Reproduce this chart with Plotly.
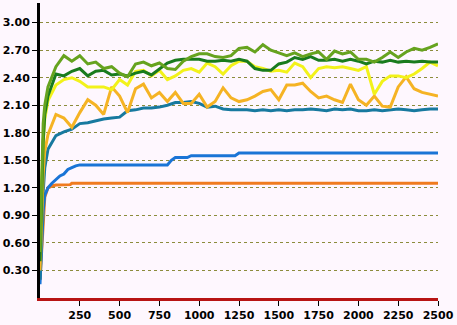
import plotly.graph_objects as go

# Sample positions (iterations); dense at the start where the curves climb
X_STEPS = [0, 10, 20, 30] + list(range(50, 2501, 50))

light_green = [0.50, 1.40, 1.90, 2.10,
               2.30, 2.52, 2.64, 2.58, 2.64, 2.55, 2.57, 2.50, 2.52, 2.45,
               2.41, 2.55, 2.57, 2.53, 2.56, 2.50, 2.49, 2.58, 2.63, 2.66,
               2.66, 2.63, 2.62, 2.64, 2.72, 2.73, 2.68, 2.76, 2.70, 2.67,
               2.64, 2.67, 2.63, 2.66, 2.68, 2.60, 2.69, 2.66, 2.68, 2.60,
               2.60, 2.57, 2.62, 2.68, 2.62, 2.68, 2.72, 2.70, 2.73, 2.77]

dark_green = [0.40, 1.20, 1.70, 2.00,
              2.20, 2.44, 2.42, 2.47, 2.50, 2.42, 2.47, 2.48, 2.43, 2.44,
              2.42, 2.45, 2.47, 2.43, 2.50, 2.56, 2.59, 2.60, 2.60, 2.60,
              2.58, 2.58, 2.59, 2.58, 2.60, 2.58, 2.50, 2.48, 2.48, 2.55,
              2.57, 2.62, 2.60, 2.63, 2.59, 2.59, 2.60, 2.58, 2.60, 2.58,
              2.55, 2.58, 2.57, 2.59, 2.57, 2.58, 2.57, 2.58, 2.57, 2.57]

yellow = [0.70, 1.30, 1.70, 1.95,
          2.15, 2.32, 2.38, 2.40, 2.36, 2.30, 2.30, 2.30, 2.27, 2.38,
          2.32, 2.47, 2.48, 2.42, 2.48, 2.38, 2.42, 2.48, 2.50, 2.46,
          2.56, 2.52, 2.44, 2.53, 2.58, 2.58, 2.52, 2.50, 2.47, 2.48,
          2.46, 2.56, 2.52, 2.40, 2.50, 2.52, 2.51, 2.52, 2.50, 2.48,
          2.52, 2.22, 2.36, 2.42, 2.42, 2.40, 2.44, 2.50, 2.57, 2.53]

gold = [0.30, 0.90, 1.35, 1.60,
        1.78, 2.00, 1.96, 1.86, 2.02, 2.16, 2.10, 2.00, 2.30, 2.20,
        2.02, 2.28, 2.33, 2.18, 2.24, 2.14, 2.24, 2.12, 2.12, 2.22,
        2.08, 2.14, 2.29, 2.18, 2.14, 2.16, 2.20, 2.25, 2.27, 2.16,
        2.32, 2.32, 2.34, 2.25, 2.18, 2.20, 2.16, 2.13, 2.33, 2.16,
        2.10, 2.20, 2.09, 2.08, 2.30, 2.41, 2.28, 2.24, 2.22, 2.20]

teal = [0.20, 0.70, 1.15, 1.42,
        1.62, 1.77, 1.81, 1.84, 1.90, 1.91, 1.93, 1.95, 1.96, 1.97,
        2.04, 2.05, 2.07, 2.07, 2.08, 2.10, 2.13, 2.13, 2.14, 2.12,
        2.08, 2.09, 2.06, 2.05, 2.05, 2.05, 2.04, 2.05, 2.04, 2.05,
        2.04, 2.05, 2.05, 2.06, 2.05, 2.04, 2.06, 2.05, 2.06, 2.04,
        2.04, 2.05, 2.04, 2.05, 2.06, 2.05, 2.04, 2.05, 2.06, 2.06]

# Step-like curves have their own sample positions
blue_x = [0, 10, 20, 30, 50, 75, 100, 125, 150, 175, 200, 225, 250,
          800, 825, 850, 925, 950, 1225, 1250, 2500]
blue = [0.15, 0.60, 0.95, 1.12, 1.20, 1.25, 1.29, 1.33, 1.35, 1.40, 1.42,
        1.44, 1.45, 1.45, 1.50, 1.53, 1.53, 1.55, 1.55, 1.58, 1.58]

orange_x = [0, 10, 20, 30, 50, 75, 100, 190, 200, 2500]
orange = [0.20, 0.50, 0.85, 1.10, 1.20, 1.22, 1.23, 1.235, 1.25, 1.25]

Y_TICKS = [0.3, 0.6, 0.9, 1.2, 1.5, 1.8, 2.1, 2.4, 2.7, 3.0]
Y_LABELS = ["0.30", "0.60", "0.90", "1.20", "1.50", "1.80", "2.10", "2.40", "2.70", "3.00"]
X_TICKS = [250, 500, 750, 1000, 1250, 1500, 1750, 2000, 2250, 2500]
X_LABELS = [str(v) for v in X_TICKS]

series = [
    (orange_x, orange, "#f07b1f"),
    (blue_x, blue, "#1a74d6"),
    (X_STEPS, teal, "#17799f"),
    (X_STEPS, gold, "#f5b324"),
    (X_STEPS, yellow, "#f2f21a"),
    (X_STEPS, dark_green, "#197b1e"),
    (X_STEPS, light_green, "#66a31f"),
]

fig = go.Figure()
for xs, ys, color in series:
    fig.add_trace(go.Scatter(x=xs, y=ys, mode="lines",
                             line=dict(color=color, width=3),
                             showlegend=False, hoverinfo="skip"))

tick_font = dict(family="DejaVu Sans", size=11, color="#000000", weight="bold")

fig.update_layout(
    width=457, height=325,
    margin=dict(l=38, r=19, t=3, b=22),
    paper_bgcolor="#fef7fe",
    plot_bgcolor="#fef7fe",
    showlegend=False,
    xaxis=dict(
        range=[0, 2500],
        showgrid=False, zeroline=False,
        showline=True, linecolor="#b81414", linewidth=3,
        tickvals=X_TICKS, ticktext=X_LABELS,
        ticks="outside", ticklen=5, tickcolor="#000000", tickwidth=1,
        tickfont=tick_font,
    ),
    yaxis=dict(
        range=[0, 3.214],
        showgrid=True, gridcolor="#8c8c3c", gridwidth=1, griddash="dot",
        zeroline=False,
        showline=True, linecolor="#000000", linewidth=3,
        tickvals=Y_TICKS, ticktext=Y_LABELS,
        ticks="outside", ticklen=5, tickcolor="#000000", tickwidth=1,
        tickfont=tick_font,
    ),
)

fig.write_html("out.html")
